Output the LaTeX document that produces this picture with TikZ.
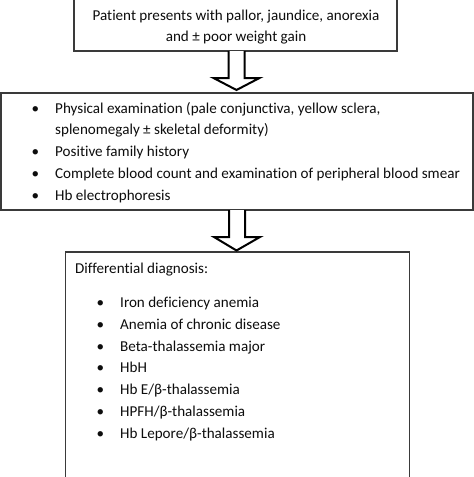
\documentclass[tikz,border=0pt]{standalone}
\usepackage{fontspec}
\setmainfont[Ligatures={TeX,NoCommon}]{Carlito}
\usetikzlibrary{calc}
\definecolor{boxgray}{HTML}{3A3A3A}
\definecolor{ink}{HTML}{0D0D0D}
\begin{document}
\begin{tikzpicture}[x=1pt,y=-1pt,
  box/.style={draw=boxgray, line width=1.5pt, fill=white, inner sep=0pt, outer sep=0pt, rectangle},
  txt/.style={anchor=base west, inner sep=0pt, font=\fontsize{15.1}{21.5}\selectfont, text=ink},
  bul/.style={anchor=base, inner sep=0pt, font=\fontsize{15.1}{21.5}\selectfont, text=ink},
  bigarrow/.style={draw=black, line width=2pt, fill=white, line join=miter}]
\useasboundingbox (0,0) rectangle (474,477);
% boxes
\node[box, minimum width=323pt, minimum height=53pt] (b1) at (235.5,24.5) {};
\node[box, minimum width=472pt, minimum height=117pt] (b2) at (237,151.5) {};
\node[box, minimum width=344pt, minimum height=232pt] (b3) at (237.5,368) {};
% arrows
\draw[bigarrow] ($(b1.south)+(-7,0)$) -- ($(b1.south)+(-7,27)$) -- ($(b1.south)+(-22,27)$)
  -- ($(b2.north)+(-0.5,-3)$) -- ($(b1.south)+(24,27)$) -- ($(b1.south)+(9,27)$) -- ($(b1.south)+(9,0)$);
\draw[bigarrow] ($(b2.south)+(-8,0)$) -- ($(b2.south)+(-8,27)$) -- ($(b2.south)+(-23,27)$)
  -- ($(b3.north)+(-1,-1.5)$) -- ($(b2.south)+(23,27)$) -- ($(b2.south)+(8,27)$) -- ($(b2.south)+(8,0)$);
% box 1 text
\node[txt, anchor=base] (t1a) at (236,20) {Patient presents with pallor, jaundice, anorexia};
\node[txt, anchor=base] (t1b) at (236,41.5) {and ± poor weight gain};
% box 2 text
\node[bul] (p1) at (35.5,113) {•};
\node[txt] (q1) at (55,113) {Physical examination (pale conjunctiva, yellow sclera,};
\node[txt] (q1b) at (55,134.75) {splenomegaly ± skeletal deformity)};
\node[bul] (p2) at (35.5,156.5) {•};
\node[txt] (q2) at (55,156.5) {Positive family history};
\node[bul] (p3) at (35.5,178.25) {•};
\node[txt] (q3) at (55,178.25) {Complete blood count and examination of peripheral blood smear};
\node[bul] (p4) at (35.5,200) {•};
\node[txt] (q4) at (55,200) {Hb electrophoresis};
% box 3 text
\node[txt] (dd) at (75,273.3) {Differential diagnosis:};
\node[bul] (r1) at (100.5,307.8) {•};
\node[txt] (s1) at (120,307.8) {Iron deficiency anemia};
\node[bul] (r2) at (100.5,329.5) {•};
\node[txt] (s2) at (120,329.5) {Anemia of chronic disease};
\node[bul] (r3) at (100.5,351.2) {•};
\node[txt] (s3) at (120,351.2) {Beta-thalassemia major};
\node[bul] (r4) at (100.5,372.9) {•};
\node[txt] (s4) at (120,372.9) {HbH};
\node[bul] (r5) at (100.5,394.6) {•};
\node[txt] (s5) at (120,394.6) {Hb E/β-thalassemia};
\node[bul] (r6) at (100.5,416.3) {•};
\node[txt] (s6) at (120,416.3) {HPFH/β-thalassemia};
\node[bul] (r7) at (100.5,438) {•};
\node[txt] (s7) at (120,438) {Hb Lepore/β-thalassemia};
\end{tikzpicture}
\end{document}
